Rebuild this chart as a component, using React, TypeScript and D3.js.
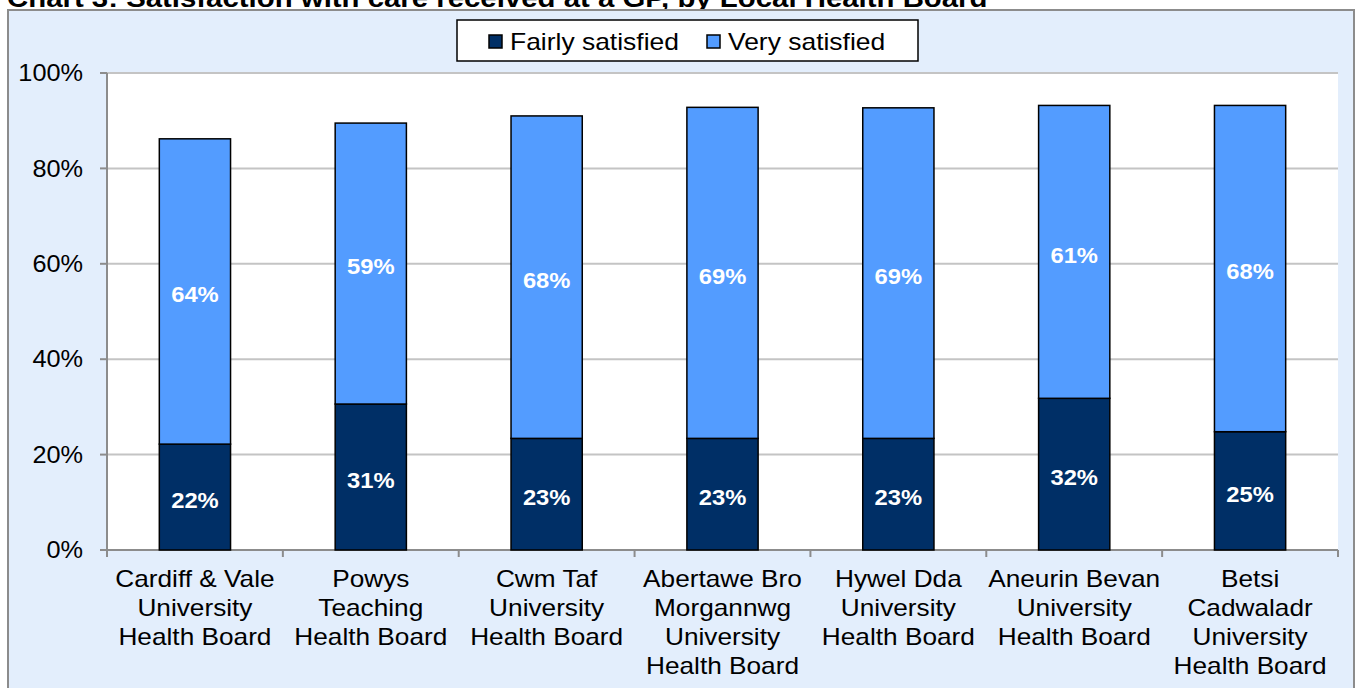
import React from "react";
import * as d3 from "d3";

const categories: string[][] = [
  ["Cardiff & Vale", "University", "Health Board"],
  ["Powys", "Teaching", "Health Board"],
  ["Cwm Taf", "University", "Health Board"],
  ["Abertawe Bro", "Morgannwg", "University", "Health Board"],
  ["Hywel Dda", "University", "Health Board"],
  ["Aneurin Bevan", "University", "Health Board"],
  ["Betsi", "Cadwaladr", "University", "Health Board"],
];
const fairly = [22.2, 30.6, 23.4, 23.4, 23.4, 31.8, 24.8];
const very = [64.0, 58.9, 67.6, 69.4, 69.3, 61.4, 68.4];
const yTicks = [0, 20, 40, 60, 80, 100];
const seriesNames = ["Fairly satisfied", "Very satisfied"];
const colors = ["#002f66", "#539cff"];

const W = 1358, H = 688;
const left = 107, right = 1338, top = 73, bottom = 550;
const font = "Liberation Sans, Arial, sans-serif";

function SText(props: { x: number; y: number; sx: number; size: number; anchor?: string; bold?: boolean; fill?: string; children: React.ReactNode }) {
  const { x, y, sx, size, anchor = "start", bold, fill = "#000", children } = props;
  return (
    <text transform={`translate(${x},${y}) scale(${sx},1)`} textAnchor={anchor} fontSize={size} fontWeight={bold ? "bold" : "normal"} fill={fill} dy="0.36em">
      {children}
    </text>
  );
}

export default function App() {
  const x = d3.scaleBand<number>().domain(d3.range(categories.length)).range([left, right]).paddingInner(0).paddingOuter(0);
  const y = d3.scaleLinear().domain([0, 100]).range([bottom, top]);
  const bw = x.bandwidth() * 0.405;
  const fmt = (v: number) => d3.format(".0f")(v) + "%";
  return (
    <svg width={W} height={H} style={{ position: "absolute", left: 0, top: 0 }} fontFamily={font}>
      <text transform="translate(7,7) scale(1.13,1)" fontSize={26} fontWeight="bold" fill="#000">Chart 3: Satisfaction with care received at a GP, by Local Health Board</text>
      <rect x={8} y={10} width={1346} height={700} fill="#e3eefc" stroke="#8c8c8c" strokeWidth={2} />
      <rect x={left} y={top} width={right - left} height={bottom - top} fill="#fff" />
      {yTicks.map((t) => (
        <g key={t}>
          {t > 0 && <line x1={left} x2={right} y1={y(t)} y2={y(t)} stroke="#c4c4c4" strokeWidth={2} />}
          <line x1={left - 7} x2={left} y1={y(t)} y2={y(t)} stroke="#8c8c8c" strokeWidth={2} />
          <SText x={83} y={y(t)} sx={1.1} size={23} anchor="end">{t}%</SText>
        </g>
      ))}
      <line x1={left} x2={left} y1={top} y2={bottom} stroke="#8c8c8c" strokeWidth={2} />
      <line x1={left} x2={right} y1={bottom} y2={bottom} stroke="#8c8c8c" strokeWidth={2} />
      {d3.range(categories.length + 1).map((i) => {
        const xx = i < categories.length ? x(i)! : right;
        return <line key={i} x1={xx} x2={xx} y1={bottom} y2={bottom + 7} stroke="#8c8c8c" strokeWidth={2} />;
      })}
      {categories.map((c, i) => {
        const cx = x(i)! + x.bandwidth() / 2;
        const f = fairly[i], v = very[i];
        return (
          <g key={i}>
            <rect x={cx - bw / 2} y={y(f)} width={bw} height={y(0) - y(f)} fill={colors[0]} stroke="#000" strokeWidth={1.5} />
            <rect x={cx - bw / 2} y={y(f + v)} width={bw} height={y(f) - y(f + v)} fill={colors[1]} stroke="#000" strokeWidth={1.5} />
            <SText x={cx} y={(y(0) + y(f)) / 2 + 3} sx={1.08} size={22} anchor="middle" bold fill="#fff">{fmt(f)}</SText>
            <SText x={cx} y={(y(f) + y(f + v)) / 2 + 3} sx={1.08} size={22} anchor="middle" bold fill="#fff">{fmt(v)}</SText>
            {c.map((line, j) => (
              <SText key={j} x={cx} y={579 + j * 29} sx={1.14} size={23} anchor="middle">{line}</SText>
            ))}
          </g>
        );
      })}
      <rect x={457} y={20} width={461} height={41} fill="#fff" stroke="#000" strokeWidth={1.5} />
      {seriesNames.map((s, i) => {
        const sx = i === 0 ? 489 : 707;
        return (
          <g key={s}>
            <rect x={sx} y={35} width={13} height={13} fill={colors[i]} stroke="#000" strokeWidth={1.5} />
            <SText x={sx + 21} y={41.5} sx={1.15} size={23}>{s}</SText>
          </g>
        );
      })}
    </svg>
  );
}
